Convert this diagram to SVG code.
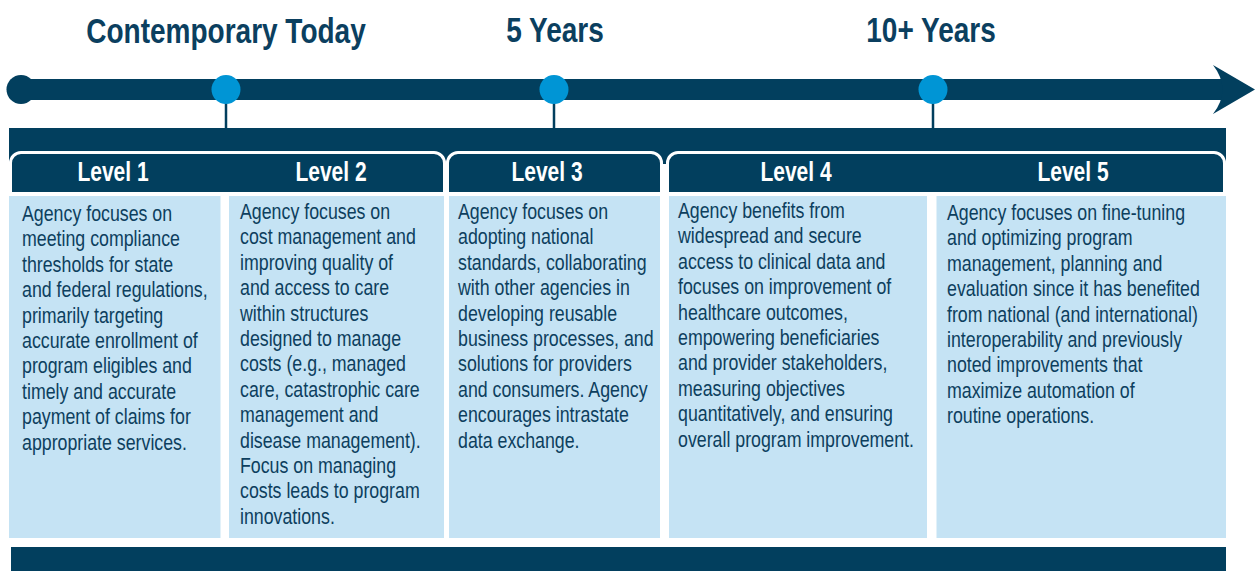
<svg xmlns="http://www.w3.org/2000/svg" width="1255" height="571" viewBox="0 0 1255 571">
  <style>
    .navy { fill: #023f5e; }
    .dot { fill: #0095d5; }
    .stem { stroke: #023f5e; stroke-width: 2.5; }
    .box { fill: #c5e3f4; }
    .hdr { fill: #023f5e; stroke: #ffffff; stroke-width: 3; }
    .title { font-family: "Liberation Sans", Arial, sans-serif; font-weight: bold; font-size: 35px; fill: #0b3f5f; text-anchor: middle; }
    .lvl { font-family: "Liberation Sans", Arial, sans-serif; font-weight: bold; font-size: 28px; fill: #ffffff; text-anchor: middle; }
    .body { font-family: "Liberation Sans", Arial, sans-serif; font-size: 22.5px; fill: #0d3f5e; }
  </style>

  <!-- time period titles (condensed by horizontal scaling) -->
  <g id="titles">
    <text class="title" transform="translate(226 43) scale(0.8 1)">Contemporary Today</text>
    <text class="title" transform="translate(555 42) scale(0.8 1)">5 Years</text>
    <text class="title" transform="translate(931 42) scale(0.8 1)">10+ Years</text>
  </g>

  <!-- timeline arrow -->
  <g id="timeline">
    <circle class="navy" cx="21" cy="89.5" r="14.5"/>
    <rect class="navy" x="21" y="79" width="1204" height="21"/>
    <path class="navy" d="M1213,65 L1255,89.5 L1213,114 Q1232,89.5 1213,65 Z"/>
  </g>

  <!-- connectors from milestones to the level band -->
  <g id="connectors">
    <line class="stem" x1="226" y1="100" x2="226" y2="130"/>
    <line class="stem" x1="554" y1="100" x2="554" y2="130"/>
    <line class="stem" x1="933" y1="100" x2="933" y2="130"/>
  </g>

  <g id="milestones">
    <circle class="dot" cx="226" cy="89.5" r="14.5"/>
    <circle class="dot" cx="554" cy="89.5" r="14.5"/>
    <circle class="dot" cx="933" cy="89.5" r="14.5"/>
  </g>

  <!-- band behind the level headers -->
  <rect class="navy" x="9" y="128" width="1217" height="42"/>
  <rect fill="#ffffff" x="443" y="164" width="6" height="32"/>
  <rect fill="#ffffff" x="660" y="164" width="9" height="32"/>

  <!-- header groups -->
  <g id="header-1-2">
    <path class="hdr" d="M10.5,194 V163 A10.5,10.5 0 0 1 21,152.5 H434 A10.5,10.5 0 0 1 444.5,163 V194"/>
    <text class="lvl" transform="translate(113 181) scale(0.75 1)">Level 1</text>
    <text class="lvl" transform="translate(331 181) scale(0.75 1)">Level 2</text>
  </g>
  <g id="header-3">
    <path class="hdr" d="M447.5,194 V163 A10.5,10.5 0 0 1 458,152.5 H651 A10.5,10.5 0 0 1 661.5,163 V194"/>
    <text class="lvl" transform="translate(547 181) scale(0.75 1)">Level 3</text>
  </g>
  <g id="header-4-5">
    <path class="hdr" d="M667.5,194 V163 A10.5,10.5 0 0 1 678,152.5 H1214 A10.5,10.5 0 0 1 1224.5,163 V194"/>
    <text class="lvl" transform="translate(796 181) scale(0.75 1)">Level 4</text>
    <text class="lvl" transform="translate(1073 181) scale(0.75 1)">Level 5</text>
  </g>
  <rect fill="#ffffff" x="0" y="192" width="1255" height="4"/>

  <!-- level descriptions -->
  <g id="level-1">
    <rect class="box" x="9" y="196" width="211.5" height="342"/>
    <text class="body" transform="translate(22 221) scale(0.79 1)">
      <tspan x="0" y="0">Agency focuses on</tspan>
      <tspan x="0" dy="25.4">meeting compliance</tspan>
      <tspan x="0" dy="25.4">thresholds for state</tspan>
      <tspan x="0" dy="25.4">and federal regulations,</tspan>
      <tspan x="0" dy="25.4">primarily targeting</tspan>
      <tspan x="0" dy="25.4">accurate enrollment of</tspan>
      <tspan x="0" dy="25.4">program eligibles and</tspan>
      <tspan x="0" dy="25.4">timely and accurate</tspan>
      <tspan x="0" dy="25.4">payment of claims for</tspan>
      <tspan x="0" dy="25.4">appropriate services.</tspan>
    </text>
  </g>
  <g id="level-2">
    <rect class="box" x="229" y="196" width="215" height="342"/>
    <text class="body" transform="translate(240 219) scale(0.79 1)">
      <tspan x="0" y="0">Agency focuses on</tspan>
      <tspan x="0" dy="25.4">cost management and</tspan>
      <tspan x="0" dy="25.4">improving quality of</tspan>
      <tspan x="0" dy="25.4">and access to care</tspan>
      <tspan x="0" dy="25.4">within structures</tspan>
      <tspan x="0" dy="25.4">designed to manage</tspan>
      <tspan x="0" dy="25.4">costs (e.g., managed</tspan>
      <tspan x="0" dy="25.4">care, catastrophic care</tspan>
      <tspan x="0" dy="25.4">management and</tspan>
      <tspan x="0" dy="25.4">disease management).</tspan>
      <tspan x="0" dy="25.4">Focus on managing</tspan>
      <tspan x="0" dy="25.4">costs leads to program</tspan>
      <tspan x="0" dy="25.4">innovations.</tspan>
    </text>
  </g>
  <g id="level-3">
    <rect class="box" x="449" y="196" width="211" height="342"/>
    <text class="body" transform="translate(458 219) scale(0.79 1)">
      <tspan x="0" y="0">Agency focuses on</tspan>
      <tspan x="0" dy="25.4">adopting national</tspan>
      <tspan x="0" dy="25.4">standards, collaborating</tspan>
      <tspan x="0" dy="25.4">with other agencies in</tspan>
      <tspan x="0" dy="25.4">developing reusable</tspan>
      <tspan x="0" dy="25.4">business processes, and</tspan>
      <tspan x="0" dy="25.4">solutions for providers</tspan>
      <tspan x="0" dy="25.4">and consumers. Agency</tspan>
      <tspan x="0" dy="25.4">encourages intrastate</tspan>
      <tspan x="0" dy="25.4">data exchange.</tspan>
    </text>
  </g>
  <g id="level-4">
    <rect class="box" x="669" y="196" width="258" height="342"/>
    <text class="body" transform="translate(678 218) scale(0.79 1)">
      <tspan x="0" y="0">Agency benefits from</tspan>
      <tspan x="0" dy="25.4">widespread and secure</tspan>
      <tspan x="0" dy="25.4">access to clinical data and</tspan>
      <tspan x="0" dy="25.4">focuses on improvement of</tspan>
      <tspan x="0" dy="25.4">healthcare outcomes,</tspan>
      <tspan x="0" dy="25.4">empowering beneficiaries</tspan>
      <tspan x="0" dy="25.4">and provider stakeholders,</tspan>
      <tspan x="0" dy="25.4">measuring objectives</tspan>
      <tspan x="0" dy="25.4">quantitatively, and ensuring</tspan>
      <tspan x="0" dy="25.4">overall program improvement.</tspan>
    </text>
  </g>
  <g id="level-5">
    <rect class="box" x="936.5" y="196" width="289.5" height="342"/>
    <text class="body" transform="translate(947 220) scale(0.79 1)">
      <tspan x="0" y="0">Agency focuses on fine-tuning</tspan>
      <tspan x="0" dy="25.4">and optimizing program</tspan>
      <tspan x="0" dy="25.4">management, planning and</tspan>
      <tspan x="0" dy="25.4">evaluation since it has benefited</tspan>
      <tspan x="0" dy="25.4">from national (and international)</tspan>
      <tspan x="0" dy="25.4">interoperability and previously</tspan>
      <tspan x="0" dy="25.4">noted improvements that</tspan>
      <tspan x="0" dy="25.4">maximize automation of</tspan>
      <tspan x="0" dy="25.4">routine operations.</tspan>
    </text>
  </g>

  <!-- base bar -->
  <rect class="navy" x="11" y="547" width="1215" height="24"/>
</svg>
